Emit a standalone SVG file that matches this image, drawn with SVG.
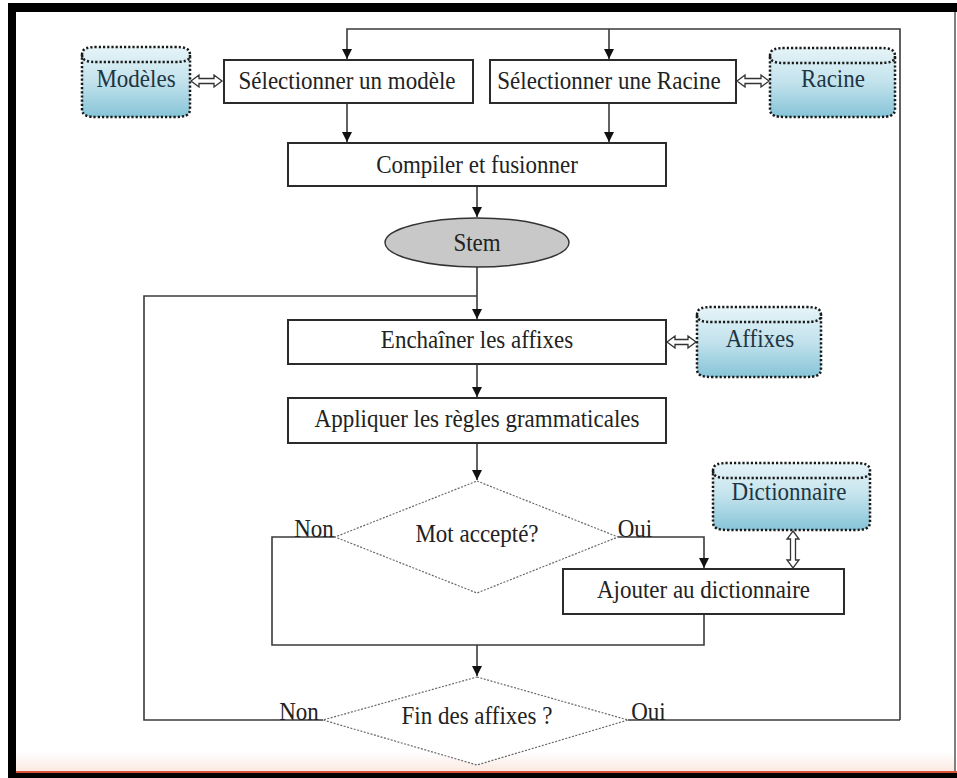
<svg xmlns="http://www.w3.org/2000/svg" width="957" height="778" viewBox="0 0 957 778">
  <style>
    .box { fill: #ffffff; stroke: #2b2b2b; stroke-width: 2; }
    .lbl { font-family: "Liberation Serif", "Times New Roman", serif; font-size: 23px; fill: #222222; text-anchor: middle; }
    .dbl { font-family: "Liberation Serif", "Times New Roman", serif; font-size: 23px; fill: #1e3542; text-anchor: middle; }
    .cyl { fill: url(#cylFill); stroke: #1a1a1a; stroke-width: 2.5; stroke-dasharray: 2.2 2; }
    .cylTop { fill: none; stroke: #1a1a1a; stroke-width: 2.5; stroke-dasharray: 2.2 2; }
    .dblArrow { fill: #ffffff; stroke: #333333; stroke-width: 1.3; }
    .wire { fill: none; stroke: #3a3a3a; stroke-width: 1.6; }
    .arrow { marker-end: url(#head); }
    .diamond { fill: #ffffff; stroke: #6a6a6a; stroke-width: 1.2; stroke-dasharray: 2 1.5; }
  </style>
  <defs>
    <linearGradient id="cylFill" x1="0" y1="0" x2="0" y2="1">
      <stop offset="0" stop-color="#e6f4f8"/>
      <stop offset="0.5" stop-color="#c2e2ec"/>
      <stop offset="1" stop-color="#86c4d8"/>
    </linearGradient>
    <linearGradient id="footHaze" x1="0" y1="0" x2="0" y2="1">
      <stop offset="0" stop-color="#ffffff"/>
      <stop offset="1" stop-color="#fbe9e2"/>
    </linearGradient>
    <marker id="head" markerUnits="userSpaceOnUse" markerWidth="11" markerHeight="11" refX="10" refY="5" orient="auto">
      <path d="M0,0 L10,5 L0,10 Z" fill="#111111"/>
    </marker>
  </defs>

  <!-- page and frame -->
  <rect x="0" y="0" width="957" height="778" fill="#ffffff"/>
  <rect x="16" y="752" width="938" height="19" fill="url(#footHaze)"/>
  <rect x="8" y="3" width="949" height="9" fill="#000000"/>
  <rect x="8" y="3" width="8" height="775" fill="#000000"/>
  <rect x="8" y="773" width="949" height="5" fill="#000000"/>
  <rect x="16" y="771" width="941" height="2" fill="#d9533a"/>
  <line x1="955" y1="12" x2="955" y2="771" stroke="#555555" stroke-width="1.5"/>

  <!-- connectors -->
  <g id="connectors">
    <path class="wire arrow" d="M900,720 L900,29 L347,29 L347,59"/>
    <path class="wire arrow" d="M609,29 L609,59"/>
    <path class="wire arrow" d="M347,103 L347,142"/>
    <path class="wire arrow" d="M609,103 L609,142"/>
    <path class="wire arrow" d="M477,186 L477,217"/>
    <path class="wire arrow" d="M477,267 L477,319"/>
    <path class="wire" d="M323,720 L144,720 L144,296 L477,296"/>
    <path class="wire arrow" d="M477,364 L477,397"/>
    <path class="wire arrow" d="M477,443 L477,480"/>
    <path class="wire" d="M335,537 L272,537 L272,645 L704,645 L704,614"/>
    <path class="wire arrow" d="M618,537 L704,537 L704,568"/>
    <path class="wire arrow" d="M477,645 L477,676"/>
    <path class="wire" d="M628,720 L900,720"/>
    <!-- two-way links to the data stores -->
    <path class="dblArrow" d="M191,81 L199,75 L199,78.5 L214,78.5 L214,75 L222,81 L214,87 L214,83.5 L199,83.5 L199,87 Z"/>
    <path class="dblArrow" d="M737,81 L745,75 L745,78.5 L761,78.5 L761,75 L769,81 L761,87 L761,83.5 L745,83.5 L745,87 Z"/>
    <path class="dblArrow" d="M667,342 L675,336 L675,339.5 L688,339.5 L688,336 L696,342 L688,348 L688,344.5 L675,344.5 L675,348 Z"/>
    <path class="dblArrow" d="M793,531 L799,539 L795.5,539 L795.5,560 L799,560 L793,568 L787,560 L790.5,560 L790.5,539 L787,539 Z"/>
  </g>

  <!-- data stores -->
  <g id="modeles">
    <path class="cyl" d="M82,55 C82,48 88,47 98,47 L174,47 C184,47 190,48 190,55 L190,109 C190,116 184,117 174,117 L98,117 C88,117 82,116 82,109 Z"/>
    <path class="cylTop" d="M82,55 C82,61 88,62 98,62 L174,62 C184,62 190,61 190,55"/>
    <text class="dbl" transform="translate(136 87) scale(1 1.1)">Modèles</text>
  </g>
  <g id="racine">
    <path class="cyl" d="M770,56 C770,49 776,48 786,48 L879,48 C889,48 895,49 895,56 L895,109 C895,116 889,117 879,117 L786,117 C776,117 770,116 770,109 Z"/>
    <path class="cylTop" d="M770,56 C770,62 776,63 786,63 L879,63 C889,63 895,62 895,56"/>
    <text class="dbl" transform="translate(833 87) scale(1 1.1)">Racine</text>
  </g>
  <g id="affixes">
    <path class="cyl" d="M697,315 C697,308 703,307 713,307 L805,307 C815,307 821,308 821,315 L821,369 C821,376 815,377 805,377 L713,377 C703,377 697,376 697,369 Z"/>
    <path class="cylTop" d="M697,315 C697,321 703,322 713,322 L805,322 C815,322 821,321 821,315"/>
    <text class="dbl" transform="translate(760 347) scale(1 1.1)">Affixes</text>
  </g>
  <g id="dictionnaire">
    <path class="cyl" d="M713,471 C713,464 719,463 729,463 L854,463 C864,463 870,464 870,471 L870,522 C870,529 864,530 854,530 L729,530 C719,530 713,529 713,522 Z"/>
    <path class="cylTop" d="M713,471 C713,477 719,478 729,478 L854,478 C864,478 870,477 870,471"/>
    <text class="dbl" transform="translate(789 500) scale(1 1.1)">Dictionnaire</text>
  </g>

  <!-- process steps -->
  <g id="selectModele">
    <rect class="box" x="224" y="60" width="249" height="43"/>
    <text class="lbl" transform="translate(347 89) scale(1 1.1)">Sélectionner un modèle</text>
  </g>
  <g id="selectRacine">
    <rect class="box" x="490" y="60" width="246" height="43"/>
    <text class="lbl" transform="translate(609 89) scale(1 1.1)">Sélectionner une Racine</text>
  </g>
  <g id="compiler">
    <rect class="box" x="288" y="143" width="378" height="43"/>
    <text class="lbl" transform="translate(477 173) scale(1 1.1)">Compiler et fusionner</text>
  </g>
  <g id="stem">
    <ellipse cx="477" cy="242.5" rx="92" ry="24.5" fill="#c8c8c8" stroke="#333333" stroke-width="1.5"/>
    <text class="lbl" transform="translate(477 251) scale(1 1.1)">Stem</text>
  </g>
  <g id="enchainer">
    <rect class="box" x="288" y="320" width="378" height="44"/>
    <text class="lbl" transform="translate(477 348) scale(1 1.1)">Enchaîner les affixes</text>
  </g>
  <g id="appliquer">
    <rect class="box" x="288" y="398" width="378" height="45"/>
    <text class="lbl" transform="translate(477 427) scale(1 1.1)">Appliquer les règles grammaticales</text>
  </g>
  <g id="motAccepte">
    <path class="diamond" d="M477,481 L618,537 L477,593 L335,537 Z"/>
    <text class="lbl" transform="translate(477 542) scale(1 1.1)">Mot accepté?</text>
    <text class="lbl" transform="translate(314 537) scale(1 1.1)">Non</text>
    <text class="lbl" transform="translate(635 537) scale(1 1.1)">Oui</text>
  </g>
  <g id="ajouter">
    <rect class="box" x="563" y="569" width="281" height="45"/>
    <text class="lbl" transform="translate(703.5 598) scale(1 1.1)">Ajouter au dictionnaire</text>
  </g>
  <g id="finAffixes">
    <path class="diamond" d="M477,677 L628,720 L477,765 L323,720 Z"/>
    <text class="lbl" transform="translate(477 724) scale(1 1.1)">Fin des affixes ?</text>
    <text class="lbl" transform="translate(299 720) scale(1 1.1)">Non</text>
    <text class="lbl" transform="translate(648.5 720) scale(1 1.1)">Oui</text>
  </g>
</svg>
